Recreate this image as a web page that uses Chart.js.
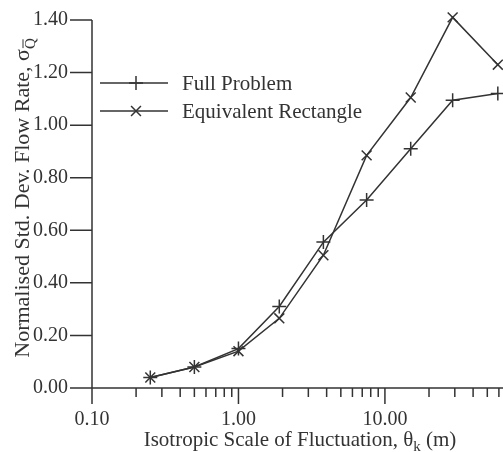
<!DOCTYPE html>
<html>
<head>
<meta charset="utf-8">
<script src="https://cdn.jsdelivr.net/npm/chart.js@4/dist/chart.umd.min.js"></script>
<style>
html, body { margin: 0; padding: 0; background: #fff; }
#wrap { width: 503px; height: 452px; }
</style>
</head>
<body>
<div id="wrap"><canvas id="chart1"></canvas></div>
<script>
const scaleOfFluctuation = [0.25, 0.5, 1, 1.9, 3.8, 7.5, 15, 29, 59];
const fullProblem = [0.04, 0.08, 0.15, 0.31, 0.555, 0.715, 0.91, 1.095, 1.12];
const equivRectangle = [0.04, 0.08, 0.14, 0.265, 0.505, 0.885, 1.105, 1.41, 1.23];
const xTickValues = [0.1, 0.2, 0.3, 0.4, 0.5, 0.6, 0.7, 0.8, 0.9, 1, 2, 3, 4, 5, 6, 7, 8, 9, 10, 20, 30, 40, 50, 60];
const xLabelValues = [0.1, 1, 10];

const ink = '#333';
const serif = '"Liberation Serif", "DejaVu Serif", serif';

function pts(ys) {
  return scaleOfFluctuation.map((x, i) => ({x: x, y: ys[i]}));
}

function isMajorY(v) {
  return Math.round(v * 10) % 2 === 0;
}

// axes, tick marks, legend and titles drawn by hand
const paperLook = {
  id: 'paperLook',
  afterDraw(chart) {
    const ctx = chart.ctx;
    const a = chart.chartArea;
    const xs = chart.scales.x;
    const ys = chart.scales.y;
    ctx.save();
    ctx.strokeStyle = ink;
    ctx.fillStyle = ink;
    ctx.lineWidth = 1.5;
    ctx.beginPath();
    ctx.moveTo(a.left, a.top);
    ctx.lineTo(a.left, a.bottom);
    ctx.lineTo(a.right, a.bottom);
    xs.ticks.forEach(t => {
      const px = xs.getPixelForValue(t.value);
      const len = xLabelValues.includes(t.value) ? 16 : 9;
      ctx.moveTo(px, a.bottom);
      ctx.lineTo(px, a.bottom + len);
    });
    ys.ticks.forEach(t => {
      const py = ys.getPixelForValue(t.value);
      const len = isMajorY(t.value) ? 22 : 11;
      ctx.moveTo(a.left, py);
      ctx.lineTo(a.left - len, py);
    });
    ctx.stroke();

    // legend
    chart.data.datasets.forEach((ds, i) => {
      const ly = a.top + 63 + i * 28;
      ctx.beginPath();
      ctx.moveTo(a.left + 8, ly);
      ctx.lineTo(a.left + 76, ly);
      ctx.stroke();
      Chart.helpers.drawPoint(ctx, {pointStyle: ds.pointStyle, radius: ds.pointRadius, borderWidth: 1.5, rotation: 0}, a.left + 44, ly);
      ctx.font = '21px ' + serif;
      ctx.textBaseline = 'middle';
      ctx.textAlign = 'left';
      ctx.fillText(ds.label, a.left + 90, ly + 1);
    });

    // x title
    ctx.textBaseline = 'alphabetic';
    ctx.textAlign = 'left';
    const xParts = ['Isotropic Scale of Fluctuation, \u03b8', 'k', ' (m)'];
    ctx.font = '21px ' + serif;
    const w0 = ctx.measureText(xParts[0]).width;
    const w2 = ctx.measureText(xParts[2]).width;
    ctx.font = '15px ' + serif;
    const w1 = ctx.measureText(xParts[1]).width;
    let tx = 300 - (w0 + w1 + w2) / 2;
    const tb = 446;
    ctx.font = '21px ' + serif;
    ctx.fillText(xParts[0], tx, tb);
    ctx.font = '15px ' + serif;
    ctx.fillText(xParts[1], tx + w0, tb + 5);
    ctx.font = '21px ' + serif;
    ctx.fillText(xParts[2], tx + w0 + w1, tb);

    // y title
    ctx.translate(22, 198);
    ctx.rotate(-Math.PI / 2);
    const yMain = 'Normalised Std. Dev. Flow Rate, \u03c3';
    ctx.font = '22px ' + serif;
    const m0 = ctx.measureText(yMain).width;
    ctx.font = '15px ' + serif;
    const m1 = ctx.measureText('Q').width;
    const sx = -(m0 + m1) / 2;
    ctx.font = '22px ' + serif;
    ctx.fillText(yMain, sx, 7);
    ctx.font = '15px ' + serif;
    ctx.fillText('Q', sx + m0, 13);
    ctx.lineWidth = 1;
    ctx.beginPath();
    ctx.moveTo(sx + m0 + 1, 1);
    ctx.lineTo(sx + m0 + m1 - 1, 1);
    ctx.stroke();
    ctx.restore();
  }
};

new Chart(document.getElementById('chart1'), {
  type: 'line',
  data: {
    datasets: [{
      label: 'Full Problem',
      data: pts(fullProblem),
      borderColor: ink,
      borderWidth: 1.5,
      pointStyle: 'cross',
      pointRadius: 7,
      pointBorderWidth: 1.5,
      pointBorderColor: ink,
      fill: false,
      clip: false
    }, {
      label: 'Equivalent Rectangle',
      data: pts(equivRectangle),
      borderColor: ink,
      borderWidth: 1.5,
      pointStyle: 'crossRot',
      pointRadius: 7,
      pointBorderWidth: 1.5,
      pointBorderColor: ink,
      fill: false,
      clip: false
    }]
  },
  options: {
    responsive: true,
    maintainAspectRatio: false,
    animation: false,
    layout: {autoPadding: false, padding: {top: 20, right: 0, left: 0, bottom: 0}},
    plugins: {legend: {display: false}, tooltip: {enabled: false}},
    scales: {
      x: {
        type: 'logarithmic',
        min: 0.1,
        max: 64,
        grid: {display: false},
        border: {display: false},
        afterBuildTicks: s => { s.ticks = xTickValues.map(v => ({value: v})); },
        afterFit: s => { s.height = 64; s.paddingLeft = 0; s.paddingRight = 0; },
        ticks: {
          autoSkip: false,
          maxRotation: 0,
          padding: 12,
          color: ink,
          font: {family: serif, size: 20},
          callback: v => xLabelValues.includes(v) ? v.toFixed(2) : ''
        }
      },
      y: {
        min: 0,
        max: 1.4,
        grid: {display: false},
        border: {display: false},
        afterFit: s => { s.width = 92; s.paddingTop = 0; s.paddingBottom = 0; },
        ticks: {
          stepSize: 0.1,
          padding: 16,
          color: ink,
          font: {family: serif, size: 20},
          callback: v => isMajorY(v) ? v.toFixed(2) : ''
        }
      }
    }
  },
  plugins: [paperLook]
});
</script>
</body>
</html>
